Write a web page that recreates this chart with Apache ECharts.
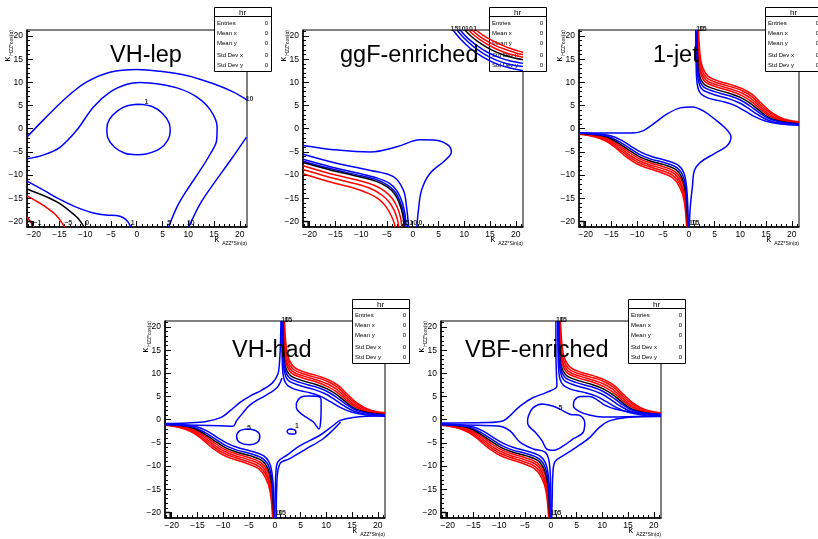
<!DOCTYPE html>
<html>
<head>
<meta charset="utf-8">
<script src="https://cdn.jsdelivr.net/npm/echarts@6/dist/echarts.min.js"></script>
<style>
  html, body { margin: 0; padding: 0; background: #fff; }
  #main { width: 818px; height: 539px; }
</style>
</head>
<body>
<div id="main"></div>
<script>
// axis ticks (ROOT style: major every 5, minor every 1)
const MAJOR_TICKS = [-20, -15, -10, -5, 0, 5, 10, 15, 20];
const MINOR_TICKS = [-21, -20, -19, -18, -17, -16, -15, -14, -13, -12, -11, -10, -9, -8, -7, -6, -5, -4, -3, -2, -1,
                     0, 1, 2, 3, 4, 5, 6, 7, 8, 9, 10, 11, 12, 13, 14, 15, 16, 17, 18, 19, 20, 21];
const X_MIN = -21.3, X_MAX = 21.4, Y_MIN = -21.2, Y_MAX = 21.3;

const BLUE = '#0000ff', RED = '#ff0000', BLACK = '#000000';

const panelTitles = ['VH-lep', 'ggF-enriched', '1-jet', 'VH-had', 'VBF-enriched'];
const statsRows = ['Entries', 'Mean x', 'Mean y', 'Std Dev x', 'Std Dev y'];
const statsValues = [0, 0, 0, 0, 0];

// corner mark seen in every frame
const cornerMark = [[-21.3, -20.0], [-20.3, -20.0], [-20.3, -21.2]];

// ---- VH-lep ----
const lepOuter = [[-21.3, -1.8], [-18.2, 1.8], [-13.6, 6.8], [-9.7, 10.1], [-5.2, 12.2], [0, 12.8], [4.5, 12.4],
                  [9.7, 11.5], [14.9, 9.7], [18.8, 7.9], [21.4, 6.2]];
const lepMid = [[-21.3, -6.5], [-18.2, -5.7], [-14.9, -4.0], [-11.7, -0.4], [-8.4, 4.7], [-5.2, 7.9], [-1.9, 9.6],
                [0.6, 10.0], [4.5, 9.6], [8.4, 8.6], [11.7, 6.8], [14.3, 4.0], [15.6, 0.4], [15.5, -2.5], [14.3, -5.4],
                [12.3, -9.0], [9.7, -13.3], [7.8, -16.9], [6.2, -21.2]];
const lepEllipse = [[0.3, 5.3], [3, 4.8], [5, 3.3], [6.3, 1.2], [6.5, -0.5], [6, -2.5], [4.5, -4.3], [2, -5.4],
                    [0, -5.6], [-2.3, -5.3], [-4.3, -4], [-5.6, -2], [-5.8, 0], [-5.3, 2], [-3.8, 3.8], [-2, 4.9], [0.3, 5.3]];
const lepLowRight = [[21.3, -1.8], [18.2, -6.8], [14.9, -11.9], [12.3, -16.2], [10.1, -21.2]];
const lepLowLeft = [[-21.3, -11.3], [-18, -13.3], [-15, -15.2], [-12, -16.8], [-9, -18], [-6, -18.6], [-4, -18.7],
                    [-2.6, -19.2], [-1.7, -20.1], [-1.2, -21.2]];
const lepBlack = [[-21.3, -13.0], [-19, -14.0], [-16.9, -15.0], [-15, -16.1], [-13.3, -17.5], [-11.5, -19.2], [-10.2, -21.2]];
const lepRedA = [[-21.3, -14.5], [-19.5, -15.6], [-17.5, -17.0], [-15.6, -18.7], [-14, -21.2]];
const lepRedB = [[-21.3, -19.0], [-20.6, -20.1], [-20.0, -21.2]];
const lepLabels = [[21.9, 6.4, '10'], [1.9, 5.8, '1'], [-0.8, -20.3, '1'], [6.3, -20.3, '5'], [10.5, -20.3, '10'],
                   [-9.6, -20.3, '0'], [-13.3, -20.3, '\u22125'], [-19.3, -20.3, '\u22121']];

// ---- ggF-enriched ----
const ggfTear = [[-21.3, -3.6], [-14.6, -4.6], [-8.2, -5.0], [-3.1, -3.9], [1.4, -2.4], [4.5, -2.5], [6.8, -3.5],
                 [7.5, -5.0], [6.3, -6.8], [3.3, -9.7], [1.7, -13.3], [1.1, -17.6], [0.8, -21.2]];
const ggfBlueA = [[-21.3, -5.5], [-14.6, -7.5], [-8.2, -9.0], [-3.7, -10.4], [-1.8, -13.3], [-1.2, -16.9], [-0.8, -21.2]];
const ggfBlueB = [[-21.3, -6.6], [-16, -8.2], [-11, -9.5], [-7, -10.6], [-4.5, -11.8], [-3, -13.5], [-2, -16], [-1.5, -18.5], [-1.3, -21.2]];
const ggfBlueC = [[-21.3, -7.0], [-16, -8.6], [-11, -9.9], [-7, -11.0], [-4.8, -12.2], [-3.3, -13.8], [-2.3, -16.2], [-1.7, -18.7], [-1.5, -21.2]];
const ggfBlack = [[-21.3, -7.3], [-16, -8.9], [-11, -10.2], [-7.2, -11.3], [-5, -12.5], [-3.5, -14.1], [-2.5, -16.4], [-1.9, -18.8], [-1.7, -21.2]];
const ggfRedA = [[-21.3, -8.0], [-16, -9.7], [-11, -11.0], [-7.5, -12.2], [-5.4, -13.5], [-4, -15], [-3, -17], [-2.4, -19], [-2.1, -21.2]];
const ggfRedB = [[-21.3, -8.8], [-16, -10.5], [-11, -11.9], [-8, -13.0], [-6, -14.3], [-4.6, -15.8], [-3.6, -17.6], [-3, -19.5], [-2.7, -21.2]];
const ggfRedC = [[-21.3, -9.7], [-16, -11.5], [-11.5, -12.8], [-8.5, -14], [-6.6, -15.2], [-5.2, -16.8], [-4.3, -18.5], [-3.7, -20], [-3.4, -21.2]];
const ggfTopBlueA = [[7.8, 21.3], [9.3, 19.3], [11.2, 17.3], [13.4, 15.6], [15.8, 14.2], [18.5, 13.2], [21.4, 12.5]];
const ggfTopBlueB = [[8.6, 21.3], [10, 19.5], [11.8, 17.7], [13.9, 16.1], [16.2, 14.8], [18.7, 13.9], [21.4, 13.4]];
const ggfTopBlueC = [[9.2, 21.3], [10.6, 19.6], [12.4, 18], [14.5, 16.5], [16.7, 15.4], [19, 14.6], [21.4, 14.1]];
const ggfTopBlack = [[10.1, 21.3], [11.5, 19.8], [13.3, 18.3], [15.3, 17.0], [17.4, 16.0], [19.5, 15.3], [21.4, 14.9]];
const ggfTopRedA = [[10.8, 21.3], [12.2, 19.9], [14, 18.5], [16, 17.3], [18, 16.4], [20, 15.8], [21.4, 15.4]];
const ggfTopRedB = [[11.5, 21.3], [12.9, 20], [14.6, 18.8], [16.5, 17.7], [18.5, 16.9], [20.2, 16.3], [21.4, 16.0]];
const ggfTopRedC = [[12.3, 21.3], [13.6, 20.2], [15.3, 19.1], [17.2, 18.1], [19, 17.3], [20.4, 16.8], [21.4, 16.5]];
const ggfLabels = [[8.1, 21.6, '15'], [9.5, 21.6, '10'], [10.9, 21.6, '10'], [12.1, 21.6, '1'],
                   [-1.4, -20.3, '15'], [0.1, -20.3, '10'], [1.5, -20.3, '0']];

// ---- shared arm clusters (1-jet, VH-had, VBF-enriched) ----
const urRed4 = [[1.9, 21.3], [2.2, 16], [2.7, 13.2], [3.8, 11.3], [6, 10.2], [8.5, 9.4], [10.5, 8.6], [12.3, 7.4], [14, 5.6], [16, 3.6], [18.5, 2.1], [21.4, 1.5]];
const urRed3 = [[1.8, 21.3], [2.0, 16], [2.5, 12.9], [3.6, 10.9], [5.8, 9.8], [8.4, 9.0], [10.4, 8.2], [12.2, 7.0], [13.9, 5.2], [15.9, 3.3], [18.4, 1.9], [21.4, 1.4]];
const urRed2 = [[1.7, 21.3], [1.9, 16], [2.3, 12.6], [3.4, 10.5], [5.6, 9.4], [8.3, 8.5], [10.3, 7.7], [12.1, 6.5], [13.8, 4.8], [15.8, 3.0], [18.3, 1.7], [21.4, 1.3]];
const urRed1 = [[1.6, 21.3], [1.8, 16], [2.2, 12.3], [3.2, 10.1], [5.4, 9.0], [8.2, 8.1], [10.2, 7.2], [12.0, 6.0], [13.7, 4.4], [15.7, 2.7], [18.2, 1.6], [21.4, 1.2]];
const urBlack = [[1.55, 21.3], [1.7, 16], [2.0, 11.9], [3.0, 9.6], [5.2, 8.5], [8.0, 7.6], [10.1, 6.7], [11.9, 5.5], [13.6, 4.0], [15.6, 2.4], [18.1, 1.5], [21.4, 1.1]];
const urBlue1 = [[1.5, 21.3], [1.6, 16], [1.9, 11.4], [2.8, 9.1], [5.0, 8.0], [7.9, 7.1], [10.0, 6.2], [11.8, 5.0], [13.5, 3.6], [15.5, 2.2], [18, 1.4], [21.4, 1.0]];
const urBlue2 = [[1.45, 21.3], [1.5, 16], [1.8, 10.8], [2.6, 8.5], [4.8, 7.4], [7.7, 6.5], [9.8, 5.6], [11.6, 4.4], [13.3, 3.1], [15.3, 1.9], [17.8, 1.2], [21.4, 0.9]];
const urBlue3 = [[1.35, 21.3], [1.4, 16], [1.6, 10.0], [2.2, 7.8], [3.8, 6.6], [6.5, 5.9], [8.8, 5.1], [10.8, 3.9], [12.8, 2.6], [15, 1.6], [17.8, 1.0], [21.4, 0.75]];
const llRed4 = [[-21.3, -1.2], [-18.5, -1.7], [-16, -2.7], [-14, -4.3], [-12, -6.2], [-10, -7.6], [-8, -8.5], [-5.5, -9.4], [-3.2, -10.5], [-1.8, -12.5], [-0.9, -15.5], [-0.4, -21.2]];
const llRed3 = [[-21.3, -1.1], [-18.4, -1.6], [-15.9, -2.5], [-13.9, -4.0], [-11.9, -5.8], [-9.9, -7.2], [-7.9, -8.1], [-5.3, -9.0], [-3.0, -10.1], [-1.6, -12.1], [-0.8, -15.3], [-0.35, -21.2]];
const llRed2 = [[-21.3, -1.05], [-18.3, -1.5], [-15.8, -2.3], [-13.8, -3.7], [-11.8, -5.4], [-9.8, -6.8], [-7.8, -7.7], [-5.1, -8.6], [-2.8, -9.7], [-1.5, -11.7], [-0.7, -15.1], [-0.3, -21.2]];
const llRed1 = [[-21.3, -1.0], [-18.2, -1.4], [-15.7, -2.1], [-13.7, -3.4], [-11.7, -5.0], [-9.7, -6.4], [-7.7, -7.3], [-4.9, -8.2], [-2.6, -9.3], [-1.3, -11.3], [-0.6, -14.9], [-0.25, -21.2]];
const llBlack = [[-21.3, -0.95], [-18.1, -1.3], [-15.6, -1.9], [-13.6, -3.1], [-11.6, -4.6], [-9.6, -6.0], [-7.6, -6.9], [-4.7, -7.8], [-2.4, -8.9], [-1.2, -10.9], [-0.5, -14.7], [-0.2, -21.2]];
const llBlue1 = [[-21.3, -0.9], [-18, -1.2], [-15.5, -1.7], [-13.5, -2.8], [-11.5, -4.2], [-9.5, -5.6], [-7.5, -6.5], [-4.5, -7.4], [-2.2, -8.5], [-1.0, -10.5], [-0.4, -14.5], [-0.15, -21.2]];
const llBlue2 = [[-21.3, -0.85], [-17.9, -1.1], [-15.2, -1.5], [-13.2, -2.4], [-11.2, -3.8], [-9.2, -5.1], [-7.2, -6.0], [-4.2, -6.9], [-1.9, -8.0], [-0.8, -10.0], [-0.3, -14.2], [-0.1, -21.2]];

// ---- 1-jet ----
const jetDiamond = [[-21.3, -0.9], [-16, -0.9], [-10.8, -0.9], [-8.8, -0.4], [-6.8, 1.1], [-4.2, 3.2], [-1.6, 4.5], [0.7, 4.7],
                    [2.9, 3.8], [4.9, 2.2], [7.2, 0], [8.2, -1.8], [7.5, -3.6], [4.9, -5.4], [2.3, -7.2], [1.1, -9.0],
                    [0.7, -12.6], [0.3, -16.9], [0.1, -21.2]];
const jetLabels = [[2.2, 21.5, '10'], [2.7, 21.5, '15'], [0.8, -20.3, '10'], [1.3, -20.3, '15']];

// ---- VH-had ----
const hadArmUL = [[1.2, 21.3], [1.1, 16], [0.9, 12], [0.6, 9.8], [-0.5, 7.9], [-2.5, 6.4], [-4.8, 5.1], [-6.8, 3.7],
                  [-8.7, 1.9], [-10.4, 0.5], [-13.3, -0.4], [-17, -0.7], [-21.3, -0.8]];
const hadArmUL2 = [[1.4, 9.0], [0.5, 7.0], [-1.5, 5.4], [-3.6, 4.1], [-5, 3.0], [-6.1, 1.6], [-7.4, -0.2], [-8.1, -1.4],
                   [-10.7, -1.3], [-15, -1.2], [-21.3, -1.1]];
const hadArmLR = [[0.0, -21.2], [0.1, -16], [0.2, -12], [0.6, -9.1], [2.3, -7.7], [4.9, -5.6], [8.7, -3.4], [11.3, -1.3],
                  [12.6, -0.2], [15.2, 0.5], [21.4, 0.85]];
const hadArmLR2 = [[0.3, -21.2], [0.4, -14], [1.0, -9.5], [2.9, -8.4], [6.1, -6.3], [9.4, -4.1], [11.5, -2.0], [12.8, -0.5]];
const hadLoop = [[4.2, 3.6], [5, 4.8], [6.8, 5.1], [8.5, 5.0], [9, 4.2], [9.0, 2], [8.9, -0.5], [8.6, -2.0], [7.5, -0.5],
                 [6, 0.6], [4.8, 1.6], [4.2, 2.6], [4.2, 3.6]];
const hadEllipse5 = [[-5.2, -2.0], [-3.6, -2.4], [-2.9, -3.5], [-3.3, -4.8], [-5, -5.4], [-6.8, -4.9], [-7.4, -3.6], [-6.8, -2.4], [-5.2, -2.0]];
const hadEllipse1 = [[3.2, -2.0], [4.0, -2.3], [4.1, -2.8], [3.5, -3.1], [2.7, -3.0], [2.4, -2.5], [2.7, -2.1], [3.2, -2.0]];
const hadLabels = [[-5.0, -1.7, '5'], [4.3, -1.4, '1'], [2.0, 21.4, '10'], [2.6, 21.4, '15'], [0.8, -20.1, '10'], [1.4, -20.1, '15']];

// ---- VBF-enriched ----
const vbfArmUL = [[1.0, 21.3], [1.0, 15], [1.1, 10], [1.2, 7.3], [-0.8, 5.9], [-3.4, 4.8], [-5.9, 3.0], [-7.9, 0.9],
                  [-9.2, -0.2], [-12.4, -0.6], [-21.3, -0.7]];
const vbfArmLR = [[0.2, -21.2], [0.3, -16], [0.4, -12], [0.8, -9.1], [2.5, -7.7], [5, -5.9], [7.6, -3.8], [9.5, -1.6],
                  [11.5, -0.2], [14.7, 0.5], [21.4, 0.7]];
const vbfInnerLL = [[-21.3, -1.1], [-14, -1.2], [-9.8, -1.4], [-7.9, -2.4], [-5.9, -4.9], [-3.4, -6.3], [-1.1, -7.0],
                    [-0.3, -9.1], [0, -14.9], [0.1, -21.2]];
const vbfHook = [[21.4, 1.2], [16, 1.6], [12.5, 2.3], [10.4, 3.2], [9, 4.3], [7.5, 5.0], [5.8, 5.0], [4.6, 4.2], [4.4, 3.0],
                 [5.5, 1.8], [7.5, 1.0], [10, 0.6], [13, 0.6], [21.4, 0.9]];
const vbfLoop5 = [[-4.3, 0.9], [-3.4, 2.6], [-1.7, 3.4], [0.2, 3.0], [1.8, 2.3], [3.7, 1.2], [5.7, 0.9], [6.6, -0.6],
                  [6.3, -2.7], [4.4, -4.1], [2.5, -5.6], [0.5, -6.6], [-0.8, -6.3], [-1.7, -4.5], [-3.0, -2.7],
                  [-4.3, -1.3], [-4.5, -0.2], [-4.3, 0.9]];
const vbfLabels = [[1.9, 2.5, '5'], [1.8, 21.4, '10'], [2.4, 21.4, '15'], [0.7, -20.1, '10'], [1.3, -20.1, '15']];

// ---- layout (pixels) ----
const grids = [
  { left: 27, top: 30, width: 220, height: 197 },
  { left: 303, top: 30, width: 220, height: 197 },
  { left: 579, top: 30, width: 220, height: 197 },
  { left: 165, top: 321, width: 220, height: 197 },
  { left: 441, top: 321, width: 220, height: 197 }
];
const titlePos = [[110, 56], [340, 55.5], [653, 55.5], [232, 351], [465, 351]];
const boxPos = [[214, 7], [489, 7], [765, 7], [352, 299], [628, 299]];

const clusterCurves = [
  [urRed4, RED], [urRed3, RED], [urRed2, RED], [urRed1, RED], [urBlack, BLACK], [urBlue1, BLUE], [urBlue2, BLUE], [urBlue3, BLUE],
  [llRed4, RED], [llRed3, RED], [llRed2, RED], [llRed1, RED], [llBlack, BLACK], [llBlue1, BLUE], [llBlue2, BLUE]
];

const panelCurves = [
  [[lepOuter, BLUE], [lepMid, BLUE], [lepEllipse, BLUE], [lepLowRight, BLUE], [lepLowLeft, BLUE], [lepBlack, BLACK],
   [lepRedA, RED], [lepRedB, RED]],
  [[ggfTear, BLUE], [ggfBlueA, BLUE], [ggfRedC, RED], [ggfRedB, RED], [ggfRedA, RED], [ggfBlueC, BLUE], [ggfBlueB, BLUE], [ggfBlack, BLACK],
   [ggfTopRedC, RED], [ggfTopRedB, RED], [ggfTopRedA, RED], [ggfTopBlueA, BLUE], [ggfTopBlueB, BLUE], [ggfTopBlueC, BLUE], [ggfTopBlack, BLACK]],
  clusterCurves.concat([[jetDiamond, BLUE]]),
  clusterCurves.concat([[hadArmUL, BLUE], [hadArmUL2, BLUE], [hadArmLR, BLUE], [hadArmLR2, BLUE], [hadLoop, BLUE],
                        [hadEllipse5, BLUE], [hadEllipse1, BLUE]]),
  clusterCurves.concat([[vbfArmUL, BLUE], [vbfArmLR, BLUE], [vbfInnerLL, BLUE], [vbfHook, BLUE], [vbfLoop5, BLUE]])
];
const panelLabels = [lepLabels, ggfLabels, jetLabels, hadLabels, vbfLabels];

const FONT = '"Liberation Sans", Arial, Helvetica, sans-serif';
const minus = v => String(v).replace('-', '\u2212');

let xAxis = [], yAxis = [], series = [], graphic = [];

grids.forEach((g, i) => {
  // major axes (labels + long ticks)
  xAxis.push({
    gridIndex: i, type: 'value', position: 'bottom', min: X_MIN, max: X_MAX,
    axisLine: { show: true, onZero: false, lineStyle: { color: '#000', width: 1.5 } },
    axisTick: { show: true, inside: true, length: 6, customValues: MAJOR_TICKS, lineStyle: { color: '#000', width: 1 } },
    axisLabel: { customValues: MAJOR_TICKS, formatter: minus, fontSize: 8.5, color: '#000', margin: 3, fontFamily: FONT },
    splitLine: { show: false }
  });
  // minor ticks on the same side
  xAxis.push({
    gridIndex: i, type: 'value', position: 'bottom', min: X_MIN, max: X_MAX,
    axisLine: { show: false, onZero: false },
    axisTick: { show: true, inside: true, length: 3, customValues: MINOR_TICKS, lineStyle: { color: '#000', width: 1 } },
    axisLabel: { show: false }, splitLine: { show: false }
  });
  yAxis.push({
    gridIndex: i, type: 'value', position: 'left', min: Y_MIN, max: Y_MAX,
    axisLine: { show: true, onZero: false, lineStyle: { color: '#000', width: 1.5 } },
    axisTick: { show: true, inside: true, length: 6, customValues: MAJOR_TICKS, lineStyle: { color: '#000', width: 1 } },
    axisLabel: { customValues: MAJOR_TICKS, formatter: minus, fontSize: 8.5, color: '#000', margin: 4, fontFamily: FONT },
    splitLine: { show: false }
  });
  yAxis.push({
    gridIndex: i, type: 'value', position: 'left', min: Y_MIN, max: Y_MAX,
    axisLine: { show: false, onZero: false },
    axisTick: { show: true, inside: true, length: 3, customValues: MINOR_TICKS, lineStyle: { color: '#000', width: 1 } },
    axisLabel: { show: false }, splitLine: { show: false }
  });

  const ax = i * 2;
  panelCurves[i].forEach(([data, color]) => {
    series.push({
      type: 'line', xAxisIndex: ax, yAxisIndex: ax, data: data,
      showSymbol: false, smooth: 0.35, silent: true, clip: true, z: 3,
      lineStyle: { color: color, width: 1.5 }
    });
  });
  series.push({
    type: 'line', xAxisIndex: ax, yAxisIndex: ax, data: cornerMark, z: 3,
    showSymbol: false, silent: true, lineStyle: { color: '#000', width: 1.5 }
  });
  series.push({
    type: 'scatter', xAxisIndex: ax, yAxisIndex: ax, clip: false, silent: true, z: 5,
    symbolSize: 1, itemStyle: { color: 'transparent' },
    data: panelLabels[i].map(l => ({ value: [l[0], l[1]], name: l[2] })),
    label: { show: true, formatter: '{b}', position: 'inside', fontSize: 7, fontWeight: 'bold', color: '#000', fontFamily: FONT }
  });

  // panel title
  graphic.push({
    type: 'text', x: titlePos[i][0], y: titlePos[i][1], z: 10,
    style: { text: panelTitles[i], font: '23.5px ' + FONT, fill: '#000', verticalAlign: 'middle' }
  });

  // x axis title  kappa_{AZZ*Sin(alpha)}
  const right = g.left + g.width, bottom = g.top + g.height;
  graphic.push({
    type: 'text', x: right - 28, y: bottom + 13, z: 10,
    style: { text: '\u03ba', font: '9px ' + FONT, fill: '#000', align: 'right', verticalAlign: 'middle' }
  });
  graphic.push({
    type: 'text', x: right, y: bottom + 16.5, z: 10,
    style: { text: 'AZZ*Sin(\u03b1)', font: '5px ' + FONT, fill: '#000', align: 'right', verticalAlign: 'middle' }
  });
  // y axis title  kappa_{HZZ*cos(alpha)}
  graphic.push({
    type: 'group', x: g.left - 19, y: g.top, rotation: Math.PI / 2, z: 10,
    children: [
      { type: 'text', x: -27, y: 0, style: { text: '\u03ba', font: '9px ' + FONT, fill: '#000', align: 'right', verticalAlign: 'middle' } },
      { type: 'text', x: 0, y: 3.5, style: { text: 'HZZ*cos(\u03b1)', font: '5px ' + FONT, fill: '#000', align: 'right', verticalAlign: 'middle' } }
    ]
  });

  // stats box: above the frame, below the contour lines
  const bw = 57, bh = 64;
  const children = [
    { type: 'rect', z: 1, shape: { x: 0.5, y: 0.5, width: bw, height: bh }, style: { fill: '#fff', stroke: '#000', lineWidth: 1 } },
    { type: 'line', z: 1, shape: { x1: 0.5, y1: 9.5, x2: bw + 0.5, y2: 9.5 }, style: { stroke: '#000', lineWidth: 1 } },
    { type: 'text', z: 1, x: bw / 2, y: 5.5, style: { text: 'hr', font: '8px ' + FONT, fill: '#000', align: 'center', verticalAlign: 'middle' } }
  ];
  const rowY = [16.7, 26.7, 36.7, 48, 58];
  statsRows.forEach((r, k) => {
    children.push({ type: 'text', z: 1, x: 3, y: rowY[k], style: { text: r, font: '6px ' + FONT, fill: '#000', verticalAlign: 'middle' } });
    children.push({ type: 'text', z: 1, x: bw - 3, y: rowY[k], style: { text: String(statsValues[k]), font: '6px ' + FONT, fill: '#000', align: 'right', verticalAlign: 'middle' } });
  });
  graphic.push({ type: 'group', x: boxPos[i][0], y: boxPos[i][1], z: 1, children: children });
});

const chart = echarts.init(document.getElementById('main'), null, { renderer: 'canvas' });
chart.setOption({
  animation: false,
  backgroundColor: '#fff',
  grid: grids.map(g => Object.assign({ show: true, borderColor: '#000', borderWidth: 1, backgroundColor: 'transparent', z: 0 }, g)),
  xAxis: xAxis,
  yAxis: yAxis,
  series: series,
  graphic: graphic
});
</script>
</body>
</html>
